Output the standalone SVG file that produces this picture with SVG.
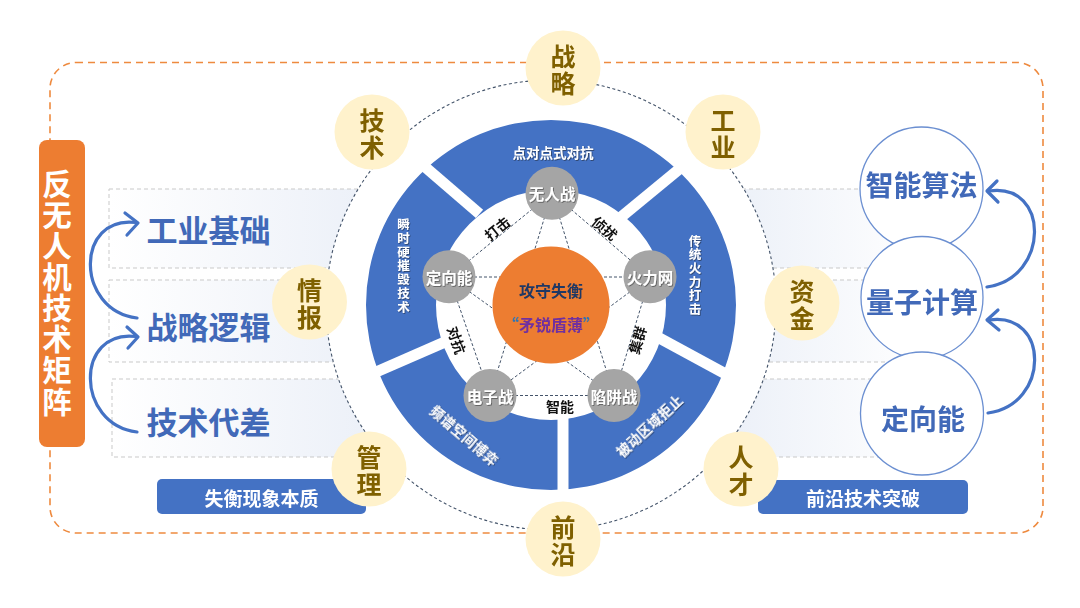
<svg xmlns="http://www.w3.org/2000/svg" width="1080" height="608" viewBox="0 0 1080 608">
<defs>
<style>
text{font-family:'Noto Sans CJK SC','Noto Sans',sans-serif;font-weight:700;dominant-baseline:central;text-anchor:middle}
.yc{fill:#fff2cc}
.yt{fill:#7f6000;font-size:25px}
.gc{fill:#a5a5a5}
.gt{fill:#fff;font-size:15.5px}
.seg{fill:#fff;font-size:13.5px}
.vseg{fill:#fff;font-size:12.5px}
.el{fill:#111;font-size:14px}
.box{stroke:#c9c9c9;stroke-width:1;stroke-dasharray:4 3}
.dash{fill:none;stroke:#44546a;stroke-width:1;stroke-dasharray:3 2}
.arr{fill:none;stroke:#4472c4;stroke-width:3.2;stroke-linecap:round;stroke-linejoin:round}
.bt{fill:#4169b8;font-size:31px}
.rc{fill:#fff;stroke:#6b8fd1;stroke-width:1.3}
.rt{fill:#4169b8;font-size:28px}
.lab{fill:#4472c4}
.labt{fill:#fff;font-size:19px}
.gap{stroke:#fff;stroke-width:11}
.tt{fill:#fff;font-size:29.5px}
</style>
<linearGradient id="gl" x1="0" x2="1" y1="0" y2="0"><stop offset="0" stop-color="#ffffff"/><stop offset="1" stop-color="#e9eef7"/></linearGradient>
<linearGradient id="gr" x1="1" x2="0" y1="0" y2="0"><stop offset="0" stop-color="#ffffff"/><stop offset="1" stop-color="#e9eef7"/></linearGradient>
<filter id="sh" x="-20%" y="-20%" width="140%" height="140%"><feDropShadow dx="0.8" dy="0.8" stdDeviation="0.6" flood-color="#222" flood-opacity="0.6"/></filter>
</defs>
<rect width="1080" height="608" fill="#fff"/>
<!-- outer dashed frame -->
<rect x="50" y="62.5" width="993" height="470.5" rx="26" fill="none" stroke="#ee8a3f" stroke-width="1.6" stroke-dasharray="7 5"/>
<!-- side boxes -->
<g id="boxes">
<rect class="box" x="109" y="189" width="300" height="79" fill="url(#gl)"/>
<rect class="box" x="109" y="280" width="300" height="82" fill="url(#gl)"/>
<rect class="box" x="112" y="379" width="300" height="78" fill="url(#gl)"/>
<rect class="box" x="700" y="189" width="230" height="79" fill="url(#gr)"/>
<rect class="box" x="700" y="280" width="230" height="82" fill="url(#gr)"/>
<rect class="box" x="700" y="379" width="230" height="78" fill="url(#gr)"/>
</g>
<!-- left title -->
<g id="node-title">
<rect x="39" y="140" width="46" height="307" rx="8" fill="#ed7d31"/>
<text class="tt" x="57" y="182">反</text>
<text class="tt" x="57" y="213">无</text>
<text class="tt" x="57" y="244">人</text>
<text class="tt" x="57" y="275">机</text>
<text class="tt" x="57" y="306">技</text>
<text class="tt" x="57" y="337">术</text>
<text class="tt" x="57" y="368">矩</text>
<text class="tt" x="57" y="400">阵</text>
</g>
<g id="node-left-texts">
<text class="bt" x="208.5" y="228">工业基础</text>
<text class="bt" x="208.5" y="325">战略逻辑</text>
<text class="bt" x="208.5" y="420">技术代差</text>
</g>
<!-- outer dashed circle -->
<circle cx="551" cy="305" r="225" fill="#fff" stroke="#44546a" stroke-width="1.1" stroke-dasharray="3 2.5"/>
<!-- ring -->
<g id="node-ring">
<path fill="#4472c4" fill-rule="evenodd" d="M366,305A185,185 0 1,0 736,305A185,185 0 1,0 366,305ZM436,305A115,115 0 1,1 666,305A115,115 0 1,1 436,305Z"/>
<line class="gap" x1="479.5" y1="213.9" x2="418" y2="160.8"/>
<line class="gap" x1="621.4" y1="216.8" x2="684.2" y2="164.9"/>
<line class="gap" x1="657.7" y1="337.1" x2="731" y2="376.8"/>
<line class="gap" x1="563" y1="412" x2="563" y2="496"/>
<line class="gap" x1="443.5" y1="342.6" x2="368.7" y2="375.2"/>
<g filter="url(#sh)">
<text class="seg" x="553" y="152">点对点式对抗</text>
<text class="vseg" x="695" y="240">传</text>
<text class="vseg" x="695" y="253.7">统</text>
<text class="vseg" x="695" y="267.3">火</text>
<text class="vseg" x="695" y="281">力</text>
<text class="vseg" x="695" y="294.7">打</text>
<text class="vseg" x="695" y="308.3">击</text>
<text class="vseg" x="403.5" y="223.6">瞬</text>
<text class="vseg" x="403.5" y="237.3">时</text>
<text class="vseg" x="403.5" y="251">硬</text>
<text class="vseg" x="403.5" y="264.8">摧</text>
<text class="vseg" x="403.5" y="278.6">毁</text>
<text class="vseg" x="403.5" y="292.3">技</text>
<text class="vseg" x="403.5" y="306">术</text>
<text class="seg" x="465" y="435" transform="rotate(40.4 465 435)" style="letter-spacing:0.5px">频谱空间博弈</text>
<text class="seg" x="649" y="425" transform="rotate(-42.5 649 425)" style="letter-spacing:0.5px">被动区域拒止</text>
</g>
</g>
<!-- connectors -->
<g id="connectors">
<line class="dash" x1="552" y1="193" x2="449" y2="277"/>
<line class="dash" x1="552" y1="193" x2="650" y2="277"/>
<line class="dash" x1="449" y1="277" x2="490" y2="395.5"/>
<line class="dash" x1="650" y1="277" x2="614" y2="395.5"/>
<line class="dash" x1="490" y1="395.5" x2="614" y2="395.5"/>
<line class="dash" x1="552" y1="193" x2="490" y2="395.5"/>
<line class="dash" x1="552" y1="193" x2="614" y2="395.5"/>
<line class="dash" x1="449" y1="277" x2="650" y2="277"/>
<line class="dash" x1="449" y1="277" x2="614" y2="395.5"/>
<line class="dash" x1="650" y1="277" x2="490" y2="395.5"/>
<path class="arr" d="M137,318C75,310 75,215 136,222.5"/>
<path class="arr" d="M125,213L138,223L127,235"/>
<path class="arr" d="M137,432C75,424 75,329 136,336.5"/>
<path class="arr" d="M127,327L138,337L128,348"/>
<path class="arr" d="M987,287C1050,278 1050,182 989,191"/>
<path class="arr" d="M997,181L987,191L998,202"/>
<path class="arr" d="M988,413C1050,405 1050,311 989,320"/>
<path class="arr" d="M998,310L987,320L999,330"/>
</g>
<g id="edge-labels">
<text class="el" x="497" y="228" transform="rotate(-39 497 228)">打击</text>
<text class="el" x="605" y="228" transform="rotate(39.7 605 228)">侦扰</text>
<text class="el" x="457" y="340" transform="rotate(70.7 457 340)">对抗</text>
<text class="el" x="637" y="340" transform="rotate(-73 637 340)">集群</text>
<text class="el" x="560" y="406">智能</text>
</g>
<!-- center -->
<g id="node-center">
<circle cx="551" cy="305" r="58.5" fill="#ed7d31"/>
<text x="551" y="290" fill="#1f3864" style="font-size:16px">攻守失衡</text>
<text x="551" y="323.5" fill="#7030a0" style="font-size:16px"><tspan fill="#2e75b6">“</tspan>矛锐盾薄<tspan fill="#2e75b6">”</tspan></text>
</g>
<g id="node-wurenzhan"><circle class="gc" cx="552" cy="193.3" r="26.5"/><text class="gt" x="552" y="193.3" filter="url(#sh)">无人战</text></g>
<g id="node-dingxiangneng"><circle class="gc" cx="449" cy="276.7" r="26.5"/><text class="gt" x="449" y="276.7" filter="url(#sh)">定向能</text></g>
<g id="node-huoliwang"><circle class="gc" cx="650" cy="276.7" r="26.5"/><text class="gt" x="650" y="276.7" filter="url(#sh)">火力网</text></g>
<g id="node-dianzizhan"><circle class="gc" cx="490" cy="395.5" r="26.5"/><text class="gt" x="490" y="395.5" filter="url(#sh)">电子战</text></g>
<g id="node-xianjingzhan"><circle class="gc" cx="614" cy="395.5" r="26.5"/><text class="gt" x="614" y="395.5" filter="url(#sh)">陷阱战</text></g>
<!-- bottom labels -->
<g id="node-label-left"><rect class="lab" x="157" y="479" width="209" height="35" rx="5"/><text class="labt" x="261.5" y="497">失衡现象本质</text></g>
<g id="node-label-right"><rect class="lab" x="758" y="480" width="210" height="34" rx="5"/><text class="labt" x="863" y="497">前沿技术突破</text></g>
<!-- yellow factor circles -->
<g id="node-zhanlue"><circle class="yc" cx="563" cy="68" r="37.5"/><text class="yt" x="563" y="54.5">战</text><text class="yt" x="563" y="81.5">略</text></g>
<g id="node-gongye"><circle class="yc" cx="723" cy="132" r="37.5"/><text class="yt" x="723" y="118.5">工</text><text class="yt" x="723" y="145.5">业</text></g>
<g id="node-zijin"><circle class="yc" cx="802" cy="303" r="37.5"/><text class="yt" x="802" y="289.5">资</text><text class="yt" x="802" y="316.5">金</text></g>
<g id="node-rencai"><circle class="yc" cx="741" cy="469" r="37.5"/><text class="yt" x="741" y="455.5">人</text><text class="yt" x="741" y="482.5">才</text></g>
<g id="node-qianyan"><circle class="yc" cx="563" cy="539" r="37.5"/><text class="yt" x="563" y="525.5">前</text><text class="yt" x="563" y="552.5">沿</text></g>
<g id="node-guanli"><circle class="yc" cx="369" cy="469" r="37.5"/><text class="yt" x="369" y="455.5">管</text><text class="yt" x="369" y="482.5">理</text></g>
<g id="node-qingbao"><circle class="yc" cx="309.5" cy="302" r="37.5"/><text class="yt" x="309.5" y="288.5">情</text><text class="yt" x="309.5" y="315.5">报</text></g>
<g id="node-jishu"><circle class="yc" cx="372" cy="132" r="37.5"/><text class="yt" x="372" y="118.5">技</text><text class="yt" x="372" y="145.5">术</text></g>
<!-- right circles -->
<g id="node-zhinengsuanfa"><circle class="rc" cx="921.5" cy="188.5" r="61.5"/><text class="rt" x="921.5" y="184">智能算法</text></g>
<g id="node-liangzijisuan"><circle class="rc" cx="922" cy="297.5" r="61"/><text class="rt" x="922" y="300.5">量子计算</text></g>
<g id="node-dingxiangneng-r"><circle class="rc" cx="922" cy="413.5" r="61.5"/><text class="rt" x="923" y="417.5">定向能</text></g>
</svg>
